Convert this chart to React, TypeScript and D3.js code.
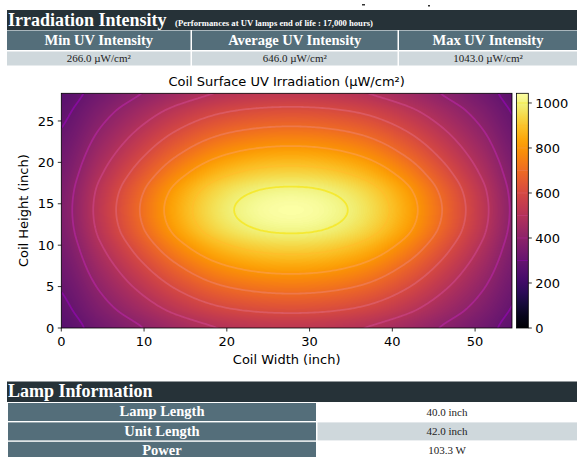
import React, { useMemo } from "react";
import * as d3 from "d3";

// ---------- data ----------
const xGrid = [0, 4.625, 9.25, 13.875, 18.5, 23.125, 27.75, 32.375, 37, 41.625, 46.25, 50.875, 55.5];
const yGrid = [0, 2.375, 4.75, 7.125, 9.5, 11.875, 14.25, 16.625, 19, 21.375, 23.75, 26.125, 28.5];
// irradiance (µW/cm²), rows from y = 0 (bottom) upward
const irradiance = [
  [265, 329, 392, 451, 497, 521, 528, 521, 497, 451, 392, 329, 265],
  [284, 367, 449, 526, 585, 616, 626, 616, 585, 526, 449, 367, 284],
  [303, 405, 507, 602, 675, 713, 725, 713, 675, 602, 507, 405, 303],
  [323, 444, 565, 678, 765, 811, 825, 811, 765, 678, 565, 444, 323],
  [342, 483, 623, 755, 855, 909, 925, 909, 855, 755, 623, 483, 342],
  [359, 517, 674, 822, 935, 995, 1013, 995, 935, 822, 674, 517, 359],
  [365, 529, 692, 845, 962, 1024, 1043, 1024, 962, 845, 692, 529, 365],
  [359, 517, 674, 822, 935, 995, 1013, 995, 935, 822, 674, 517, 359],
  [342, 483, 623, 755, 855, 909, 925, 909, 855, 755, 623, 483, 342],
  [323, 444, 565, 678, 765, 811, 825, 811, 765, 678, 565, 444, 323],
  [303, 405, 507, 602, 675, 713, 725, 713, 675, 602, 507, 405, 303],
  [284, 367, 449, 526, 585, 616, 626, 616, 585, 526, 449, 367, 284],
  [265, 329, 392, 451, 497, 521, 528, 521, 497, 451, 392, 329, 265],
];
const contourLevels = [300, 400, 500, 600, 700, 800, 900, 1000];
const xTicks = [0, 10, 20, 30, 40, 50];
const yTicks = [0, 5, 10, 15, 20, 25];
const cbTicks = [0, 200, 400, 600, 800, 1000];
const xDomain = [0, 54.46];
const yDomain = [0, 28.34];
const vMax = 1043;

const summaryHeaders = ["Min UV Intensity", "Average UV Intensity", "Max UV Intensity"];
const summaryValues = ["266.0 µW/cm²", "646.0 µW/cm²", "1043.0 µW/cm²"];
const lampLabels = ["Lamp Length", "Unit Length", "Power"];
const lampValues = ["40.0 inch", "42.0 inch", "103.3 W"];

// ---------- layout ----------
const W = 577, H = 457;
const PX0 = 61.3, PX1 = 512, PY0 = 93.3, PY1 = 328;
const CBX0 = 516.5, CBX1 = 528.3;
const SANS = "DejaVu Sans";
const SERIF = "Liberation Serif";
const DARK = "#263238";
const SLATE = "#546e7a";
const LIGHT = "#cfd8dc";

function field(x: number, y: number): number {
  const sx = xGrid[1] - xGrid[0];
  const sy = yGrid[1] - yGrid[0];
  const nx = xGrid.length, ny = yGrid.length;
  const cx = Math.max(xGrid[0], Math.min(xGrid[nx - 1], x));
  const cy = Math.max(yGrid[0], Math.min(yGrid[ny - 1], y));
  const fx = (cx - xGrid[0]) / sx;
  const fy = (cy - yGrid[0]) / sy;
  const ix = Math.min(nx - 2, Math.floor(fx));
  const iy = Math.min(ny - 2, Math.floor(fy));
  const tx = fx - ix, ty = fy - iy;
  const get = (i: number, j: number) =>
    irradiance[Math.max(0, Math.min(ny - 1, j))][Math.max(0, Math.min(nx - 1, i))];
  const cr = (p0: number, p1: number, p2: number, p3: number, t: number) =>
    p1 + 0.5 * t * (p2 - p0 + t * (2 * p0 - 5 * p1 + 4 * p2 - p3 + t * (3 * (p1 - p2) + p3 - p0)));
  const r: number[] = [];
  for (let m = -1; m <= 2; m++) {
    r.push(cr(get(ix - 1, iy + m), get(ix, iy + m), get(ix + 1, iy + m), get(ix + 2, iy + m), tx));
  }
  return cr(r[0], r[1], r[2], r[3], ty);
}

export default function App() {
  const xScale = d3.scaleLinear().domain(xDomain).range([PX0, PX1]);
  const yScale = d3.scaleLinear().domain(yDomain).range([PY1, PY0]);
  const cScale = d3.scaleLinear().domain([0, vMax]).range([PY1, PY0]);

  const imageUrl = useMemo(() => {
    const pw = Math.round(PX1 - PX0);
    const ph = Math.round(PY1 - PY0);
    const canvas = document.createElement("canvas");
    canvas.width = pw;
    canvas.height = ph;
    const ctx = canvas.getContext("2d");
    if (!ctx) return "";
    const lut: number[][] = [];
    for (let k = 0; k < 256; k++) {
      const c = d3.rgb(d3.interpolateInferno(k / 255));
      lut.push([c.r, c.g, c.b]);
    }
    const img = ctx.createImageData(pw, ph);
    for (let py = 0; py < ph; py++) {
      const y = yScale.invert(PY0 + (py + 0.5) * (PY1 - PY0) / ph);
      for (let px = 0; px < pw; px++) {
        const x = xScale.invert(PX0 + (px + 0.5) * (PX1 - PX0) / pw);
        const v = field(x, y);
        const k = Math.max(0, Math.min(255, Math.round((v / vMax) * 255)));
        const o = (py * pw + px) * 4;
        img.data[o] = lut[k][0];
        img.data[o + 1] = lut[k][1];
        img.data[o + 2] = lut[k][2];
        img.data[o + 3] = 255;
      }
    }
    ctx.putImageData(img, 0, 0);
    return canvas.toDataURL();
  }, []);

  const contourPaths = useMemo(() => {
    const cell = 2;
    const pad = 4;
    const n = Math.ceil((PX1 - PX0) / cell) + 2 * pad;
    const m = Math.ceil((PY1 - PY0) / cell) + 2 * pad;
    const vals = new Array(n * m);
    for (let j = 0; j < m; j++) {
      const y = yScale.invert(PY0 + (j - pad + 0.5) * cell);
      for (let i = 0; i < n; i++) {
        const x = xScale.invert(PX0 + (i - pad + 0.5) * cell);
        vals[j * n + i] = field(x, y);
      }
    }
    const gen = d3.contours().size([n, m]).thresholds(contourLevels);
    const proj = d3.geoTransform({
      point(this: any, x: number, y: number) {
        this.stream.point(PX0 + (x - pad) * cell, PY0 + (y - pad) * cell);
      },
    });
    const path = d3.geoPath(proj);
    return gen(vals).map((c) => ({ level: c.value, d: path(c as any) || "" }));
  }, []);

  const gradStops = d3.range(0, 1.0001, 0.05);

  const colX = [
    [7, 190.5],
    [192, 397.5],
    [399, 577],
  ];

  return (
    <svg width={W} height={H} style={{ position: "absolute", left: 0, top: 0, background: "#fff" }}>
      <defs>
        <clipPath id="plotClip">
          <rect x={PX0} y={PY0} width={PX1 - PX0} height={PY1 - PY0} />
        </clipPath>
        <linearGradient id="cbGrad" x1="0" y1="1" x2="0" y2="0">
          {gradStops.map((t) => (
            <stop key={t} offset={t} stopColor={d3.interpolateInferno(t)} />
          ))}
        </linearGradient>
      </defs>
      <rect x={0} y={0} width={W} height={H} fill="#fff" />

      {/* stray marks at top */}
      <rect x={362} y={4} width={3} height={1.5} fill="#333" />
      <rect x={428} y={5} width={2} height={1.5} fill="#333" />

      {/* top table */}
      <rect x={7} y={10} width={W - 7} height={20} fill={DARK} />
      <text x={8} y={26} fontFamily={SERIF} fontWeight="bold" fontSize={18} fill="#fff">
        Irradiation Intensity
      </text>
      <text x={175} y={25.5} fontFamily={SERIF} fontWeight="bold" fontSize={9} fill="#fff"
        textLength={198} lengthAdjust="spacingAndGlyphs">
        (Performances at UV lamps end of life : 17,000 hours)
      </text>
      {summaryHeaders.map((h, i) => (
        <g key={h}>
          <rect x={colX[i][0]} y={30.5} width={colX[i][1] - colX[i][0]} height={19.5} fill={SLATE} />
          <text x={(colX[i][0] + colX[i][1]) / 2} y={45} textAnchor="middle" fontFamily={SERIF}
            fontWeight="bold" fontSize={14.5} fill="#fff">
            {h}
          </text>
          <rect x={colX[i][0]} y={51.5} width={colX[i][1] - colX[i][0]} height={14} fill={LIGHT} />
          <text x={(colX[i][0] + colX[i][1]) / 2} y={62} textAnchor="middle" fontFamily={SERIF}
            fontSize={11} fill="#222">
            {summaryValues[i]}
          </text>
        </g>
      ))}

      {/* chart */}
      <text x={(PX0 + PX1) / 2} y={86} textAnchor="middle" fontFamily={SANS} fontSize={13} fill="#000">
        Coil Surface UV Irradiation (µW/cm²)
      </text>
      <image href={imageUrl} x={PX0} y={PY0} width={PX1 - PX0} height={PY1 - PY0}
        preserveAspectRatio="none" />
      <g clipPath="url(#plotClip)">
        {contourPaths.map((c) => (
          <path key={c.level} d={c.d} fill="none" stroke={d3.interpolatePlasma(c.level / vMax)}
            strokeWidth={1.8} strokeOpacity={0.85} />
        ))}
      </g>
      <rect x={PX0} y={PY0} width={PX1 - PX0} height={PY1 - PY0} fill="none" stroke="#000" strokeWidth={0.8} />

      {xTicks.map((t) => (
        <g key={"x" + t}>
          <line x1={xScale(t)} x2={xScale(t)} y1={PY1} y2={PY1 + 3.5} stroke="#000" strokeWidth={0.8} />
          <text x={xScale(t)} y={PY1 + 18} textAnchor="middle" fontFamily={SANS} fontSize={13} fill="#000">
            {t}
          </text>
        </g>
      ))}
      {yTicks.map((t) => (
        <g key={"y" + t}>
          <line x1={PX0 - 3.5} x2={PX0} y1={yScale(t)} y2={yScale(t)} stroke="#000" strokeWidth={0.8} />
          <text x={PX0 - 7} y={yScale(t) + 4.7} textAnchor="end" fontFamily={SANS} fontSize={13} fill="#000">
            {t}
          </text>
        </g>
      ))}
      <text x={(PX0 + PX1) / 2} y={364} textAnchor="middle" fontFamily={SANS} fontSize={13} fill="#000">
        Coil Width (inch)
      </text>
      <text transform={`translate(27.5,${(PY0 + PY1) / 2}) rotate(-90)`} textAnchor="middle"
        fontFamily={SANS} fontSize={13} fill="#000">
        Coil Height (inch)
      </text>

      {/* colorbar */}
      <rect x={CBX0} y={PY0} width={CBX1 - CBX0} height={PY1 - PY0} fill="url(#cbGrad)" />
      {contourLevels.map((l) => (
        <line key={"cb" + l} x1={CBX0} x2={CBX1} y1={cScale(l)} y2={cScale(l)}
          stroke={d3.interpolatePlasma(l / vMax)} strokeWidth={1} strokeOpacity={0.6} />
      ))}
      <rect x={CBX0} y={PY0} width={CBX1 - CBX0} height={PY1 - PY0} fill="none" stroke="#000" strokeWidth={0.8} />
      {cbTicks.map((t) => (
        <g key={"c" + t}>
          <line x1={CBX1} x2={CBX1 + 3.5} y1={cScale(t)} y2={cScale(t)} stroke="#000" strokeWidth={0.8} />
          <text x={CBX1 + 7} y={cScale(t) + 4.7} fontFamily={SANS} fontSize={13} fill="#000">
            {t}
          </text>
        </g>
      ))}

      {/* lamp table */}
      <rect x={7} y={381.5} width={W - 7} height={20.5} fill={DARK} />
      <text x={8} y={396.5} fontFamily={SERIF} fontWeight="bold" fontSize={18} fill="#fff">
        Lamp Information
      </text>
      {lampLabels.map((l, i) => {
        const y0 = 403 + i * 19.4;
        return (
          <g key={l}>
            <rect x={8} y={y0} width={308} height={18} fill={SLATE} />
            <rect x={317.5} y={y0} width={W - 317.5} height={18} fill={i === 1 ? LIGHT : "#fff"} />
            <text x={162} y={y0 + 13.2} textAnchor="middle" fontFamily={SERIF} fontWeight="bold"
              fontSize={14.5} fill="#fff">
              {l}
            </text>
            <text x={447} y={y0 + 12.5} textAnchor="middle" fontFamily={SERIF} fontSize={11} fill="#222">
              {lampValues[i]}
            </text>
          </g>
        );
      })}
    </svg>
  );
}
